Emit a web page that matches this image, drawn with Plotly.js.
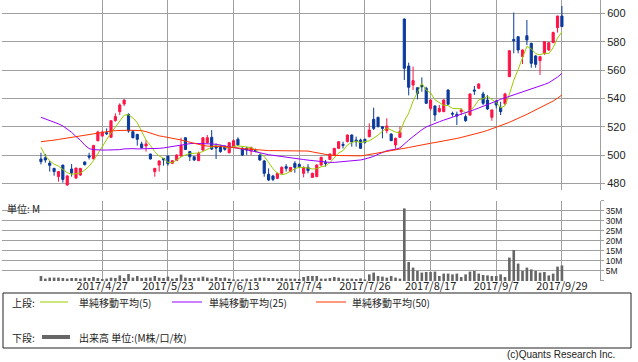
<!DOCTYPE html>
<html><head><meta charset="utf-8">
<script src="https://cdn.plot.ly/plotly-3.0.1.min.js"></script>
<style>html,body{margin:0;padding:0;background:#fff;overflow:hidden}</style>
</head><body><div id="chart" style="width:638px;height:362px"></div>
<script>
const dates=["2017/4/7","2017/4/10","2017/4/11","2017/4/12","2017/4/13","2017/4/14","2017/4/17","2017/4/18","2017/4/19","2017/4/20","2017/4/21","2017/4/24","2017/4/25","2017/4/26","2017/4/27","2017/4/28",
"2017/5/1","2017/5/2","2017/5/8","2017/5/9","2017/5/10","2017/5/11","2017/5/12","2017/5/15","2017/5/16","2017/5/17","2017/5/18","2017/5/19","2017/5/22","2017/5/23","2017/5/24","2017/5/25","2017/5/26","2017/5/29","2017/5/30","2017/5/31",
"2017/6/1","2017/6/2","2017/6/5","2017/6/6","2017/6/7","2017/6/8","2017/6/9","2017/6/12","2017/6/13","2017/6/14","2017/6/15","2017/6/16","2017/6/19","2017/6/20","2017/6/21","2017/6/22","2017/6/23","2017/6/26","2017/6/27","2017/6/28","2017/6/29","2017/6/30",
"2017/7/3","2017/7/4","2017/7/5","2017/7/6","2017/7/7","2017/7/10","2017/7/11","2017/7/12","2017/7/13","2017/7/14","2017/7/18","2017/7/19","2017/7/20","2017/7/21","2017/7/24","2017/7/25","2017/7/26","2017/7/27","2017/7/28","2017/7/31",
"2017/8/1","2017/8/2","2017/8/3","2017/8/4","2017/8/7","2017/8/8","2017/8/9","2017/8/10","2017/8/14","2017/8/15","2017/8/16","2017/8/17","2017/8/18","2017/8/21","2017/8/22","2017/8/23","2017/8/24","2017/8/25","2017/8/28","2017/8/29","2017/8/30","2017/8/31",
"2017/9/1","2017/9/4","2017/9/5","2017/9/6","2017/9/7","2017/9/8","2017/9/11","2017/9/12","2017/9/13","2017/9/14","2017/9/15","2017/9/19","2017/9/20","2017/9/21","2017/9/22","2017/9/25","2017/9/26","2017/9/27","2017/9/28","2017/9/29"];

const openP=[497.2,498.1,494.3,490.6,484.8,492.9,478.8,490.1,483.8,485.9,495.1,499.3,497.4,510.1,
513.4,515.8,512.5,524.4,530.6,536.0,528.7,516.5,514.6,507.8,
506.4,500.7,488.3,492.9,497.6,499.3,494.1,496.2,499.3,512.2,
502.4,498.8,496.0,503.5,508.7,512.5,505.9,505.9,505.9,501.6,
505.9,511.1,504.7,504.7,502.8,503.5,500.0,495.8,486.4,485.2,
483.5,487.1,491.8,488.3,494.1,493.4,487.1,491.3,484.2,484.7,
492.9,494.8,496.9,500.0,504.7,507.5,509.4,514.1,510.6,510.6,
511.1,512.9,525.2,526.6,520.0,517.2,514.8,507.1,512.5,596.0,
562.8,549.4,547.5,549.4,547.1,532.9,534.6,530.6,530.6,545.9,
529.4,528.7,530.6,527.1,528.2,545.9,547.1,543.1,538.8,526.6,
538.1,533.6,536.2,555.3,581.6,583.5,569.4,584.2,578.8,569.9,
566.6,571.8,574.1,579.3,589.9,598.1];
const highP=[501.6,500.7,495.8,490.8,488.3,493.0,485.9,493.6,491.0,490.8,495.5,501.6,506.8,517.2,
517.2,518.8,524.2,529.4,536.5,539.3,529.4,517.6,514.8,509.4,
510.6,500.9,490.8,496.2,497.8,499.5,496.2,500.5,512.2,512.4,
502.6,499.0,502.4,512.2,514.1,517.6,508.2,506.6,507.0,508.9,
511.0,512.5,505.5,505.9,506.0,504.5,500.5,496.5,490.6,486.0,
487.5,492.0,493.6,491.5,495.7,494.0,492.0,493.6,487.5,493.5,
498.8,496.5,501.0,505.0,509.8,509.4,514.5,514.6,513.0,511.5,
511.5,522.4,533.4,527.0,520.5,525.9,515.3,512.2,520.0,596.2,
565.2,562.4,547.7,554.8,548.2,539.0,535.0,535.3,539.3,546.2,
530.6,530.6,532.9,528.7,543.5,548.7,550.6,544.7,542.4,532.0,
538.8,537.6,544.0,574.0,600.5,583.8,574.5,595.3,579.3,570.6,
569.6,580.2,579.5,587.1,598.3,605.2];
const lowP=[493.4,494.6,488.3,485.4,481.2,480.5,478.4,484.7,483.1,485.2,492.7,496.9,496.9,509.6,
513.0,514.1,512.5,523.5,528.2,534.6,515.8,511.8,506.6,504.7,
502.4,496.9,484.7,488.3,492.5,492.5,493.6,495.7,498.8,503.5,
495.7,495.7,495.7,503.1,508.2,503.5,497.2,501.6,503.0,501.2,
505.0,506.5,499.3,500.0,500.0,502.0,496.0,484.7,481.6,481.5,
483.0,486.5,488.3,488.0,487.5,491.0,484.2,487.1,484.0,484.5,
492.5,491.8,496.5,499.3,504.2,504.7,509.0,505.9,505.9,504.5,
508.0,512.5,517.6,519.5,511.8,515.3,510.0,504.0,512.0,552.9,
542.1,545.9,539.3,544.7,536.0,531.3,524.0,530.0,530.3,535.5,
527.1,521.2,528.2,523.5,527.8,542.4,546.5,535.3,531.8,524.2,
532.9,528.2,535.3,555.0,571.8,571.8,564.2,577.6,561.6,561.6,
556.5,570.6,573.5,579.0,586.4,590.4];
const closeP=[495.3,496.5,492.7,488.3,488.3,482.8,485.2,487.3,490.8,490.6,493.2,498.6,506.8,516.2,
516.2,515.0,524.2,527.1,535.3,538.8,516.9,512.2,511.1,505.2,
507.8,497.2,490.6,495.8,496.5,493.9,496.0,500.0,506.6,503.9,
498.8,496.5,501.2,512.2,512.2,504.2,505.0,502.4,504.0,508.7,
510.1,507.1,500.0,503.5,505.2,502.8,496.5,487.1,482.4,482.8,
487.1,491.3,490.6,491.3,491.3,491.8,491.3,489.0,487.1,492.9,
498.4,494.1,500.7,504.7,509.4,506.8,514.1,509.2,509.4,504.7,
509.0,517.6,518.8,520.0,518.8,520.5,510.1,511.8,516.5,561.2,
547.8,552.5,543.5,548.2,536.5,538.8,528.2,532.9,538.8,535.8,
528.9,527.5,531.8,524.2,543.1,545.2,550.1,536.5,532.5,531.8,
535.3,530.6,543.1,573.6,580.7,574.1,574.1,581.2,564.7,564.0,
569.4,580.0,579.3,586.4,598.1,590.6];

const ma5=[505.5,499.5,496.0,493.5,492.2,489.7,487.5,486.4,486.9,487.3,489.4,492.1,496.0,501.1,
506.2,510.6,515.7,519.7,523.6,528.1,528.5,526.1,522.9,516.8,
510.6,506.7,502.4,499.3,497.6,494.8,494.6,496.4,498.6,500.1,
501.1,501.2,501.4,502.5,504.2,505.3,507.0,507.2,505.6,504.9,
506.0,506.5,506.0,505.9,505.2,503.7,501.6,499.0,494.8,490.3,
487.2,486.1,486.8,488.6,490.3,491.3,491.3,490.9,490.1,490.4,
491.7,492.3,494.6,498.2,501.5,503.1,507.1,508.8,509.8,508.8,
509.3,510.0,511.9,514.0,516.8,519.1,517.6,516.2,515.5,524.0,
529.5,538.0,544.3,550.6,545.7,543.9,539.0,536.9,535.0,534.9,
532.9,532.8,532.6,529.6,531.1,534.4,538.9,539.8,541.5,539.2,
537.2,533.3,534.7,542.9,552.7,560.4,569.1,576.7,575.0,571.6,
570.7,571.9,571.5,575.8,582.6,586.9];
const ma25=[526.6,525.5,524.5,523.3,522.0,520.5,518.5,516.0,513.0,510.5,507.0,504.5,503.8,503.5,
503.5,503.5,503.5,503.5,503.8,504.3,504.5,504.5,504.3,504.3,
504.3,504.5,504.5,504.7,505.0,505.5,506.0,506.8,507.5,507.8,
508.0,508.2,508.2,508.2,508.0,507.8,507.5,507.0,506.5,506.0,
505.5,505.0,504.5,503.8,503.0,502.3,501.5,500.8,500.2,499.8,
499.3,498.8,498.4,498.0,497.6,497.2,496.8,496.4,496.0,495.6,
495.3,495.0,494.8,494.8,495.0,495.5,495.8,496.1,496.3,496.5,
497.2,498.0,499.0,500.5,502.0,503.0,503.6,504.0,505.0,508.0,
510.5,513.0,515.5,517.8,519.8,521.2,522.5,523.5,524.6,525.6,
526.6,527.6,528.6,529.7,530.8,532.0,533.2,534.3,535.3,536.6,
538.0,539.3,540.3,541.3,542.3,543.5,544.5,545.5,546.5,547.5,
548.5,549.8,551.0,552.9,555.0,557.6];
const ma50=[509.4,509.6,510.0,510.5,511.0,511.5,512.3,512.8,513.3,513.8,514.3,514.7,515.2,515.7,
516.2,516.5,516.9,517.2,517.4,517.5,517.5,517.4,517.3,517.2,
516.5,515.5,514.2,513.5,513.0,512.5,512.0,511.3,510.6,509.8,
509.0,508.0,507.3,506.8,506.3,506.0,505.9,505.9,505.8,505.7,
505.3,505.0,504.6,504.3,504.0,503.6,503.4,503.2,503.1,503.1,
503.1,503.1,503.1,503.1,503.1,503.1,503.1,502.8,502.2,501.5,
500.8,500.2,499.9,499.7,499.6,499.5,499.5,499.4,499.4,499.4,
499.8,500.3,500.9,501.6,502.3,502.8,503.2,503.5,504.0,504.6,
505.3,505.9,506.6,507.2,507.8,508.3,508.8,509.3,509.9,510.4,
511.0,511.7,512.4,513.1,513.8,514.6,515.5,516.4,517.4,518.4,
519.5,520.7,521.9,523.1,524.4,525.8,527.2,528.7,530.3,531.8,
533.3,534.8,536.3,538.1,540.1,542.4];
const volumeM=[2.5,1.2,1.7,1.7,1.7,1.5,1.2,1.5,1.5,1.2,1.7,1.5,2.0,1.5,
1.0,1.2,1.7,1.5,2.8,1.5,3.5,1.7,2.5,1.5,
1.7,1.7,2.5,1.7,1.5,2.2,1.2,1.5,3.2,1.7,
1.5,1.5,1.7,2.2,1.7,1.2,2.0,1.5,1.7,1.2,
0.8,0.8,0.8,1.2,0.8,1.5,1.7,1.7,1.5,1.5,
1.2,1.5,1.2,1.2,1.2,1.0,2.0,2.5,2.5,2.5,
1.2,1.2,1.5,2.0,1.7,1.2,1.2,1.2,1.0,1.3,
0.8,3.3,4.2,2.5,2.2,1.7,2.5,1.7,1.2,36.3,
9.5,6.7,5.0,4.2,4.5,4.5,4.7,2.5,3.7,3.7,
3.3,3.7,2.0,3.3,4.7,5.0,3.7,3.0,2.8,2.5,
2.5,3.3,2.0,11.7,15.5,8.7,5.0,6.7,5.8,5.0,
4.2,4.5,2.8,3.7,7.2,7.8];

const tickDates=["2017/4/27","2017/5/23","2017/6/13","2017/7/4","2017/7/26","2017/8/17","2017/9/7","2017/9/29"];
const priceTicks=[480,500,520,540,560,580,600];
const volTicks=[0,5,10,15,20,25,30,35,40];
const volTickText=["","5M","10M","15M","20M","25M","30M","35M",""];
const legendLabels=["単純移動平均(5)","単純移動平均(25)","単純移動平均(50)"];
const volLegendLabel="出来高 単位:(M株/口/枚)";

const RED="#ff1447", BLUE="#0a3a9c", C5="#99cc00", C25="#9900ff", C50="#ff3300", VOL="#666666", GRID="#a0a0a0";
const FONT="Noto Sans CJK JP";
const NUMFONT="Liberation Sans";
// pixel -> paper helpers (plot area: x 2..600, y 0..281)
const px=x=>(x-2)/598, py=y=>(281-y)/281;

const traces=[
 {type:"candlestick",x:dates,open:openP,high:highP,low:lowP,close:closeP,xaxis:"x",yaxis:"y",
  increasing:{line:{color:RED,width:1},fillcolor:RED},decreasing:{line:{color:BLUE,width:1},fillcolor:BLUE},
  whiskerwidth:0,hoverinfo:"skip",showlegend:false},
 {type:"scatter",mode:"lines",x:dates,y:ma5,line:{color:C5,width:1},xaxis:"x",yaxis:"y",hoverinfo:"skip"},
 {type:"scatter",mode:"lines",x:dates,y:ma25,line:{color:C25,width:1},xaxis:"x",yaxis:"y",hoverinfo:"skip"},
 {type:"scatter",mode:"lines",x:dates,y:ma50,line:{color:C50,width:1},xaxis:"x",yaxis:"y",hoverinfo:"skip"},
 {type:"bar",x:dates,y:volumeM,marker:{color:VOL,line:{width:0}},width:0.6,xaxis:"x2",yaxis:"y2",hoverinfo:"skip"}
];

const xr=[-8.9,127.7];
const ann=(text,x,y,opt)=>Object.assign({text,xref:"paper",yref:"paper",x:px(x),y:py(y),showarrow:false,xanchor:"left",yanchor:"middle",font:{family:FONT,size:10,color:"#222"}},opt||{});
const line=(x0,x1,y,color,w)=>({type:"line",xref:"paper",yref:"paper",x0:px(x0),x1:px(x1),y0:py(y),y1:py(y),line:{color,width:w}});

const layout={
 width:638,height:362,margin:{l:2,r:38,t:0,b:81},
 paper_bgcolor:"#ffffff",plot_bgcolor:"#ffffff",showlegend:false,
 font:{family:FONT,size:11,color:"#222"},
 xaxis:{type:"category",anchor:"y",domain:[0,1],range:xr,tickvals:tickDates,showticklabels:false,
  showgrid:true,gridcolor:GRID,gridwidth:1,ticks:"",zeroline:false,showline:false,rangeslider:{visible:false},fixedrange:true},
 yaxis:{domain:[0.3238,1],range:[475.3,609.4],side:"right",tickvals:priceTicks,showgrid:true,gridcolor:GRID,
  ticks:"outside",ticklen:4,tickcolor:GRID,showline:true,linecolor:GRID,zeroline:false,tickfont:{family:NUMFONT,size:11}},
 xaxis2:{type:"category",anchor:"y2",domain:[0,1],range:xr,matches:"x",tickvals:tickDates,ticktext:tickDates,
  showgrid:true,gridcolor:GRID,ticks:"",zeroline:false,showline:false,tickfont:{size:11},tickangle:0,ticklabelstandoff:-3},
 yaxis2:{domain:[0,0.2847],range:[0,40],side:"right",tickvals:volTicks,ticktext:volTickText,showgrid:true,gridcolor:GRID,
  ticks:"outside",ticklen:3,tickcolor:GRID,showline:true,linecolor:GRID,zeroline:false,tickfont:{family:NUMFONT,size:8.5}},
 shapes:[
  {type:"rect",xref:"paper",yref:"paper",x0:px(3),x1:px(631),y0:py(293),y1:py(348),line:{color:"#222",width:1},fillcolor:"rgba(0,0,0,0)"},
  line(40,68,302,C5,1), line(172,202,302,C25,1), line(316,346,302,C50,1),
  line(42,70,337,VOL,4)
 ],
 annotations:[
  ann("単位: M",5,209),
  ann("上段:",10,302), ann(legendLabels[0],77,302), ann(legendLabels[1],207,302), ann(legendLabels[2],350,302),
  ann("下段:",10,337), ann(volLegendLabel,77,337),
  ann("(c)Quants Research Inc.",617,354,{xanchor:"right",font:{family:NUMFONT,size:10,color:"#222"}})
 ]
};
Plotly.newPlot("chart",traces,layout,{staticPlot:true,displayModeBar:false});
</script>
</body></html>
